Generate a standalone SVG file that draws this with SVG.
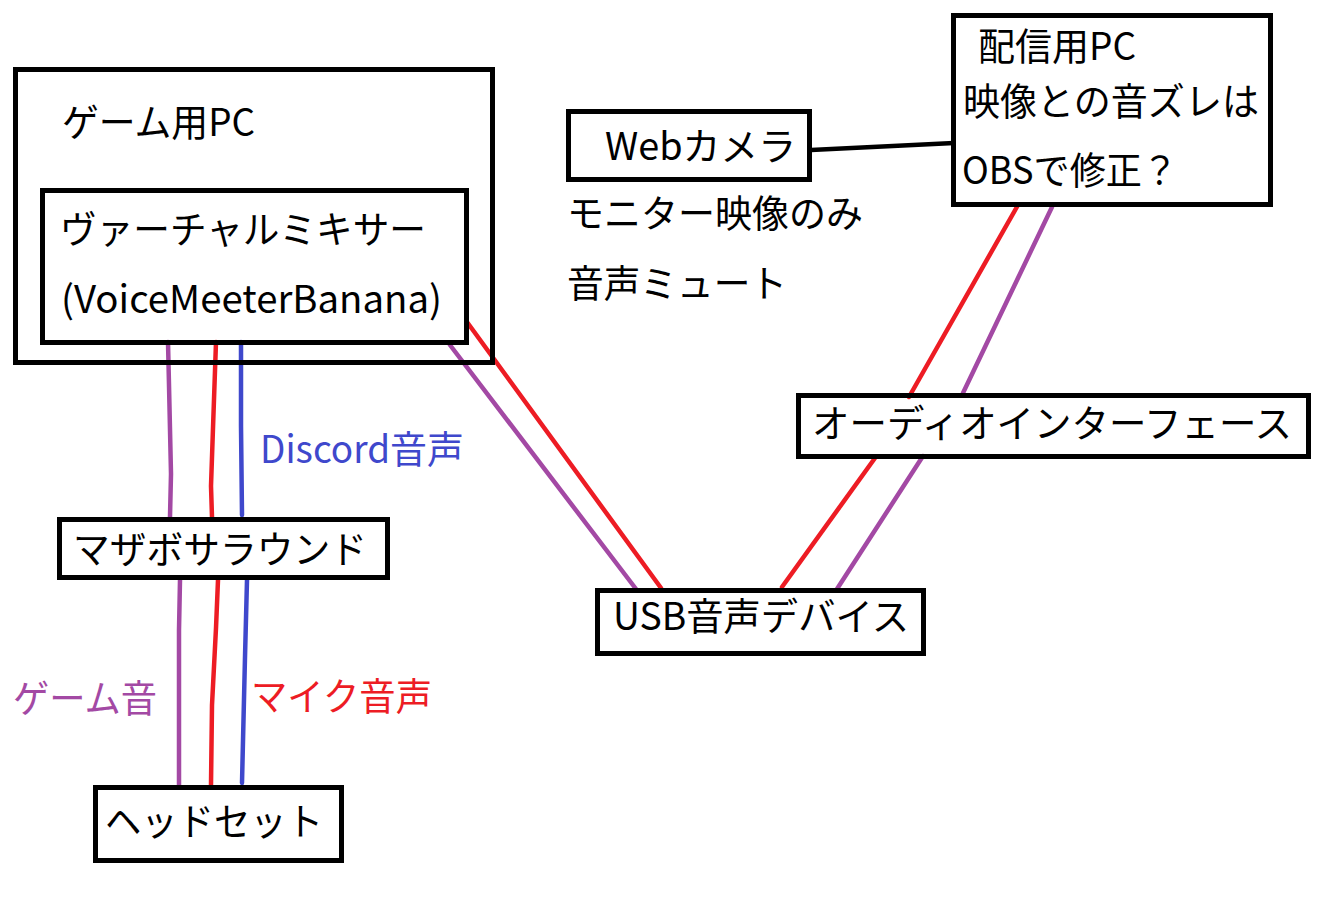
<svg xmlns="http://www.w3.org/2000/svg" width="1326" height="901" viewBox="0 0 1326 901">
<style>
.box{fill:none;stroke:#000;stroke-width:5}
text{font-family:"Noto Sans CJK JP","Noto Sans",sans-serif;font-size:38px;fill:#000}
.w{fill:none;stroke-width:4.5;stroke-linecap:round;stroke-linejoin:round}
.r{stroke:#ed1c24}.p{stroke:#a349a4}.b{stroke:#3f48cc}
.k{stroke:#000;stroke-width:4.5}
</style>
<rect width="1326" height="901" fill="#fff"/>
<g id="connectors">
<polyline class="w p" points="168,342 169,385 171,474 170,517"/>
<polyline class="w r" points="216,342 213,428 211,486 212,517"/>
<polyline class="w b" points="241,342 241,426 242,515"/>
<polyline class="w p" points="180,580 179,630 179,734 179,785"/>
<polyline class="w r" points="218,580 216,628 212,705 211,785"/>
<polyline class="w b" points="247,580 245,657 242,783"/>
<line class="w p" x1="450" y1="345" x2="636" y2="589"/>
<line class="w r" x1="467" y1="322" x2="661" y2="588"/>
<line class="w r" x1="782" y1="587" x2="875" y2="458"/>
<line class="w p" x1="837" y1="589" x2="923" y2="456"/>
<line class="w r" x1="909" y1="397" x2="1018" y2="205"/>
<line class="w p" x1="963" y1="393" x2="1052" y2="207"/>
<line class="k" x1="811" y1="150" x2="954" y2="143"/>
<text x="260" y="463" style="fill:#3f48cc" textLength="204" lengthAdjust="spacingAndGlyphs">Discord音声</text>
<text x="13" y="712" style="fill:#a349a4" textLength="144" lengthAdjust="spacingAndGlyphs">ゲーム音</text>
<text x="251" y="710" style="fill:#ed1c24" textLength="181" lengthAdjust="spacingAndGlyphs">マイク音声</text>
</g>
<g id="game-pc">
<rect class="box" x="15.5" y="69.5" width="477" height="293"/>
<text x="62" y="136" textLength="193" lengthAdjust="spacingAndGlyphs">ゲーム用PC</text>
</g>
<g id="virtual-mixer">
<rect class="box" x="42.5" y="190.5" width="424" height="152"/>
<text x="60" y="243" textLength="366" lengthAdjust="spacingAndGlyphs">ヴァーチャルミキサー</text>
<text x="61" y="313" textLength="381" lengthAdjust="spacingAndGlyphs">(VoiceMeeterBanana)</text>
</g>
<g id="webcam">
<rect class="box" x="568.5" y="111.5" width="241" height="68"/>
<text x="605" y="160" textLength="191" lengthAdjust="spacingAndGlyphs">Webカメラ</text>
<text x="567" y="227" textLength="296" lengthAdjust="spacingAndGlyphs">モニター映像のみ</text>
<text x="567" y="297" textLength="220" lengthAdjust="spacingAndGlyphs">音声ミュート</text>
</g>
<g id="stream-pc">
<rect class="box" x="953.5" y="15.5" width="317" height="189"/>
<text x="978" y="60" textLength="158" lengthAdjust="spacingAndGlyphs">配信用PC</text>
<text x="963" y="115" textLength="296" lengthAdjust="spacingAndGlyphs">映像との音ズレは</text>
<text x="962" y="184" textLength="216" lengthAdjust="spacingAndGlyphs">OBSで修正？</text>
</g>
<g id="audio-interface">
<rect class="box" x="798.5" y="395.5" width="510" height="61"/>
<text x="812" y="437" textLength="480" lengthAdjust="spacingAndGlyphs">オーディオインターフェース</text>
</g>
<g id="usb-audio">
<rect class="box" x="597.5" y="590.5" width="326" height="63"/>
<text x="613" y="630" textLength="296" lengthAdjust="spacingAndGlyphs">USB音声デバイス</text>
</g>
<g id="mobo-surround">
<rect class="box" x="59.5" y="519.5" width="328" height="58"/>
<text x="73" y="563" textLength="294" lengthAdjust="spacingAndGlyphs">マザボサラウンド</text>
</g>
<g id="headset">
<rect class="box" x="95.5" y="787.5" width="246" height="73"/>
<text x="105" y="835" textLength="218" lengthAdjust="spacingAndGlyphs">ヘッドセット</text>
</g>
</svg>
